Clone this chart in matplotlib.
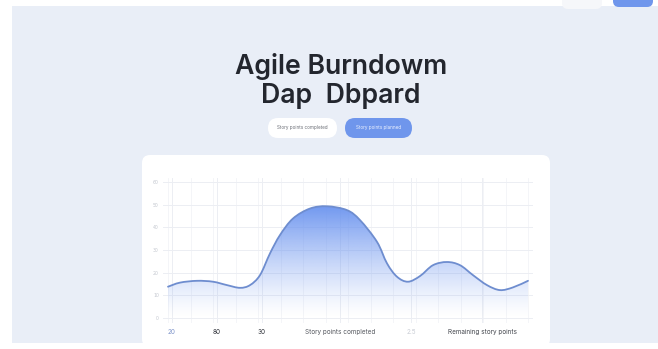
import matplotlib
matplotlib.use("Agg")
import matplotlib.pyplot as plt
import numpy as np
from matplotlib.patches import FancyBboxPatch, Rectangle, PathPatch
from matplotlib.path import Path
from matplotlib.colors import to_rgb

# ---- data ----
days = [0, 1.2, 2.9, 4.5, 5.9, 7.2, 8.2, 9.2, 10.2, 11.2, 12.5, 14.2, 15.9, 17.9,
        19.2, 20.9, 21.9, 22.9, 24.0, 25.2, 26.5, 27.9, 29.2, 30.5, 31.9, 33.2, 34.5, 36.0]
points = [13.8, 15.6, 16.4, 16.0, 14.5, 13.3, 14.5, 18.9, 28.5, 36.6, 43.9, 48.3, 49.3, 47.6,
          43.2, 33.6, 24.1, 18.2, 16.0, 18.5, 23.3, 24.7, 23.3, 18.9, 14.5, 12.3, 13.5, 16.4]
y_ticks = [0, 10, 20, 30, 40, 50, 60]
x_tick_pos = [0.4, 4.9, 9.4, 17.2, 24.3, 31.4]
x_tick_labels = ["20", "80", "30", "Story points completed", "2.5", "Remaining story points"]
x_tick_colors = ["#7d93c9", "#2a2d35", "#2a2d35", "#55585f", "#c8ccd4", "#44474e"]
title = "Agile Burndowm\nDap  Dbpard"
btn_labels = ["Story points completed", "Story points planned"]

W, H = 658, 349
fig = plt.figure(figsize=(W / 100, H / 100), dpi=100)
fig.patch.set_facecolor("white")

BG = "#e9eef7"
BLUE = "#6f96ec"

# pixel-space overlay for layout elements
bg = fig.add_axes([0, 0, 1, 1], zorder=0)
bg.set_xlim(0, W)
bg.set_ylim(H, 0)
bg.axis("off")

def pill(x0, y0, x1, y1, fc, r):
    bg.add_patch(FancyBboxPatch((x0, y0), x1 - x0, y1 - y0,
                                boxstyle=f"round,pad=0,rounding_size={r}",
                                facecolor=fc, edgecolor="none"))

bg.add_patch(Rectangle((12, 6), W - 12, 337, facecolor=BG, edgecolor="none"))
pill(562, -12, 602, 9, "#f6f7fa", 6)
pill(613, -12, 653, 7, BLUE, 6)
pill(268, 118, 337, 138, "white", 10)
pill(345, 118, 412, 138, BLUE, 10)
pill(142, 155, 550, 347, "white", 8)

bg.text(302.5, 128, btn_labels[0], ha="center", va="center", fontsize=3.3,
        color="#6a6d75", family="Inter")
bg.text(378.5, 128, btn_labels[1], ha="center", va="center", fontsize=3.3,
        color="#eef3ff", family="Inter")
bg.text(341, 81, title, ha="center", va="center", fontsize=19.2, family="Inter",
        fontweight="semibold", color="#23262e", linespacing=1.15)

# chart axes
ax = fig.add_axes([163 / W, 1 - 322.5 / H, 370 / W, (322.5 - 177.5) / H], zorder=2)
ax.set_facecolor("none")
ax.set_xlim(-0.5, 36.5)
ax.set_ylim(-2, 62)
for s in ax.spines.values():
    s.set_visible(False)

ax.set_yticks(y_ticks)
ax.set_yticklabels([str(v) for v in y_ticks], fontsize=3.3, color="#c3c7cf")
ax.set_xticks(x_tick_pos)
ax.set_xticklabels(x_tick_labels, fontsize=4.6, family="Inter")
for lbl, c in zip(ax.get_xticklabels(), x_tick_colors):
    lbl.set_color(c)
ax.tick_params(axis="both", length=0, pad=3)
ax.tick_params(axis="x", pad=5)
ax.set_xticks(np.arange(0, 37, 2.25), minor=True)
ax.tick_params(axis="x", which="minor", length=0)
ax.grid(True, which="major", color="#eceef3", lw=0.7)
ax.grid(True, which="minor", axis="x", color="#f3f4f7", lw=0.6)
ax.set_axisbelow(True)

# smooth curve via Catmull-Rom -> cubic Bezier
xs = np.asarray(days, float)
ys = np.asarray(points, float)
n = len(xs)
verts = [(xs[0], ys[0])]
codes = [Path.MOVETO]
for i in range(n - 1):
    p0 = np.array([xs[max(i - 1, 0)], ys[max(i - 1, 0)]])
    p1 = np.array([xs[i], ys[i]])
    p2 = np.array([xs[i + 1], ys[i + 1]])
    p3 = np.array([xs[min(i + 2, n - 1)], ys[min(i + 2, n - 1)]])
    c1 = p1 + (p2 - p0) / 6
    c2 = p2 - (p3 - p1) / 6
    verts += [tuple(c1), tuple(c2), tuple(p2)]
    codes += [Path.CURVE4] * 3
line_path = Path(verts, codes)
fill_path = Path(verts + [(xs[-1], 0), (xs[0], 0), (xs[0], ys[0])],
                 codes + [Path.LINETO, Path.LINETO, Path.CLOSEPOLY])

# gradient fill
rgb = np.array(to_rgb("#6a93ef"))
grad_h = 256
alpha = np.linspace(0, 1, grad_h) ** 1.3 * 0.97
img = np.zeros((grad_h, 2, 4))
img[:, :, :3] = rgb
img[:, :, 3] = alpha[:, None]
clip = PathPatch(fill_path, transform=ax.transData, facecolor="none", edgecolor="none")
ax.add_patch(clip)
im = ax.imshow(img, extent=(xs[0], xs[-1], 0, 50), origin="lower", aspect="auto",
               interpolation="bilinear", zorder=2)
im.set_clip_path(clip)

ax.add_patch(PathPatch(line_path, transform=ax.transData, facecolor="none",
                       edgecolor="#6e8dcf", lw=1.3, zorder=3, capstyle="round"))

fig.savefig("out.png", dpi=100, facecolor=fig.get_facecolor())
